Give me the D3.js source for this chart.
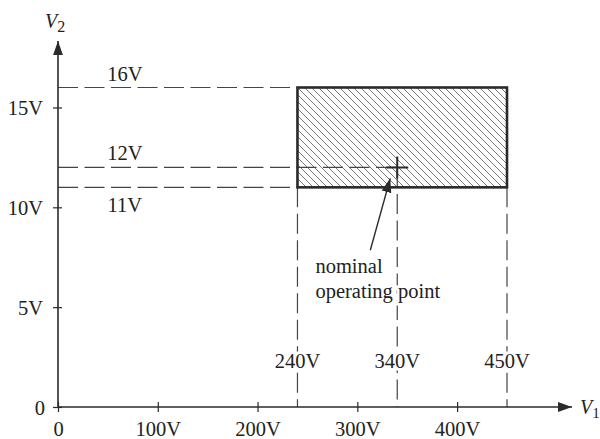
<!DOCTYPE html>
<html>
<head>
<meta charset="utf-8">
<script src="https://cdn.jsdelivr.net/npm/d3@7"></script>
<style>
  html, body { margin: 0; padding: 0; background: #fff; }
  svg text { font-family: "Liberation Serif", "Times New Roman", serif; fill: #222; }
</style>
</head>
<body>
<svg id="chart" width="600" height="439"></svg>
<script>
// Axis ticks (V1 in volts, V2 in volts)
const xTicks = [0, 100, 200, 300, 400];
const yTicks = [0, 5, 10, 15];
// Permitted operating region
const v1Range = [240, 450];
const v2Range = [11, 16];
// Nominal operating point
const nominal = [340, 12];
// Reference labels on the axes
const v2Marks = [{ v: 16, label: "16V", pos: "above" }, { v: 12, label: "12V", pos: "above" }, { v: 11, label: "11V", pos: "below" }];
const v1Marks = [{ v: 240, label: "240V" }, { v: 340, label: "340V" }, { v: 450, label: "450V" }];

const svg = d3.select("#chart");
const ink = "#2a2a2a";
const fs = 20.5;

const x = d3.scaleLinear().domain([0, 450]).range([58, 507]);
const y = d3.scaleLinear().domain([0, 16]).range([407, 87.5]);

const defs = svg.append("defs");
defs.append("marker")
  .attr("id", "arrow").attr("viewBox", "0 0 10 10")
  .attr("refX", 10).attr("refY", 5)
  .attr("markerWidth", 14).attr("markerHeight", 14)
  .attr("markerUnits", "userSpaceOnUse")
  .attr("orient", "auto")
  .append("path").attr("d", "M0,1.5 L10,5 L0,8.5 Z").attr("fill", ink);

const hatch = defs.append("pattern")
  .attr("id", "hatch").attr("patternUnits", "userSpaceOnUse")
  .attr("width", 7).attr("height", 7);
hatch.append("path")
  .attr("d", "M-1,-1 L8,8 M-8,0 L1,8 M6,-1 L15,8")
  .attr("stroke", "#555").attr("stroke-width", 0.8);

// Hatched region
svg.append("rect")
  .attr("x", x(v1Range[0])).attr("y", y(v2Range[1]))
  .attr("width", x(v1Range[1]) - x(v1Range[0]))
  .attr("height", y(v2Range[0]) - y(v2Range[1]))
  .attr("fill", "url(#hatch)");

// Dashed guide lines
const dash = "20,6.5";
const guides = svg.append("g").attr("stroke", "#444").attr("stroke-width", 1.2)
  .attr("stroke-dasharray", dash).attr("fill", "none");
guides.append("line").attr("x1", x(0)).attr("x2", x(v1Range[0])).attr("y1", y(16)).attr("y2", y(16));
guides.append("line").attr("x1", x(0)).attr("x2", x(nominal[0])).attr("y1", y(nominal[1])).attr("y2", y(nominal[1]));
guides.append("line").attr("x1", x(0)).attr("x2", x(v1Range[0])).attr("y1", y(11)).attr("y2", y(11));
guides.append("line").attr("x1", x(v1Range[0])).attr("x2", x(v1Range[0])).attr("y1", y(v2Range[0])).attr("y2", y(0));
guides.append("line").attr("x1", x(nominal[0])).attr("x2", x(nominal[0])).attr("y1", y(nominal[1])).attr("y2", y(0));
guides.append("line").attr("x1", x(v1Range[1])).attr("x2", x(v1Range[1])).attr("y1", y(v2Range[0])).attr("y2", y(0));

// Region outline
svg.append("rect")
  .attr("x", x(v1Range[0])).attr("y", y(v2Range[1]))
  .attr("width", x(v1Range[1]) - x(v1Range[0]))
  .attr("height", y(v2Range[0]) - y(v2Range[1]))
  .attr("fill", "none").attr("stroke", ink).attr("stroke-width", 2.6);

// Nominal point cross
const cx = x(nominal[0]), cy = y(nominal[1]);
svg.append("path")
  .attr("d", `M${cx - 11},${cy} H${cx + 11} M${cx},${cy - 11} V${cy + 11}`)
  .attr("stroke", ink).attr("stroke-width", 2);

// Axes
const xAxis = svg.append("g").attr("transform", `translate(0,${y(0)})`)
  .call(d3.axisBottom(x).tickValues(xTicks).tickSize(0)
    .tickFormat(d => d === 0 ? "0" : d + "V"));
xAxis.select(".domain").remove();
xAxis.selectAll(".tick line").attr("y1", -5).attr("y2", 5).attr("stroke", ink).attr("stroke-width", 1.2);
xAxis.selectAll(".tick text").attr("y", 29).attr("dy", 0).attr("font-size", fs).attr("fill", "#222");

const yAxis = svg.append("g").attr("transform", `translate(${x(0)},0)`)
  .call(d3.axisLeft(y).tickValues(yTicks).tickSize(0)
    .tickFormat(d => d === 0 ? "0" : d + "V"));
yAxis.select(".domain").remove();
yAxis.selectAll(".tick line").attr("x1", -5).attr("x2", 4).attr("stroke", ink).attr("stroke-width", 1.2);
yAxis.selectAll(".tick text").attr("x", -15).attr("dy", "0.35em").attr("font-size", fs).attr("fill", "#222");
yAxis.selectAll(".tick").filter(d => d === 0).select("text").attr("x", -13);

svg.append("line").attr("x1", x(0)).attr("x2", 572).attr("y1", y(0)).attr("y2", y(0))
  .attr("stroke", ink).attr("stroke-width", 1.6).attr("marker-end", "url(#arrow)");
svg.append("line").attr("x1", x(0)).attr("x2", x(0)).attr("y1", y(0)).attr("y2", 41)
  .attr("stroke", ink).attr("stroke-width", 1.6).attr("marker-end", "url(#arrow)");

// Axis titles
const v1t = svg.append("text").attr("x", 580).attr("y", 414).attr("font-size", 20);
v1t.append("tspan").attr("font-style", "italic").text("V");
v1t.append("tspan").attr("font-size", 15).attr("dy", 4).text("1");
const v2t = svg.append("text").attr("x", 45).attr("y", 28).attr("font-size", 20);
v2t.append("tspan").attr("font-style", "italic").text("V");
v2t.append("tspan").attr("font-size", 16).attr("dy", 4).text("2");

// V2 level labels
svg.append("g").selectAll("text").data(v2Marks).join("text")
  .attr("x", x(67)).attr("text-anchor", "middle").attr("font-size", fs)
  .attr("y", d => d.pos === "above" ? y(d.v) - 7 : y(d.v) + 25)
  .text(d => d.label);

// V1 level labels over the vertical guides
svg.append("g").selectAll("text").data(v1Marks).join("text")
  .attr("x", d => x(d.v)).attr("y", 368).attr("text-anchor", "middle").attr("font-size", fs)
  .attr("stroke", "#fff").attr("stroke-width", 6).attr("paint-order", "stroke")
  .text(d => d.label);

// Annotation
svg.append("line")
  .attr("x1", x(313)).attr("y1", y(7.85))
  .attr("x2", x(333)).attr("y2", y(11.45))
  .attr("stroke", ink).attr("stroke-width", 1.4).attr("marker-end", "url(#arrow)");
const note = svg.append("text").attr("x", x(258)).attr("y", 273).attr("font-size", fs)
  .attr("stroke", "#fff").attr("stroke-width", 5).attr("paint-order", "stroke");
note.append("tspan").attr("x", x(258)).text("nominal");
note.append("tspan").attr("x", x(258)).attr("dy", 25).text("operating point");
</script>
</body>
</html>
